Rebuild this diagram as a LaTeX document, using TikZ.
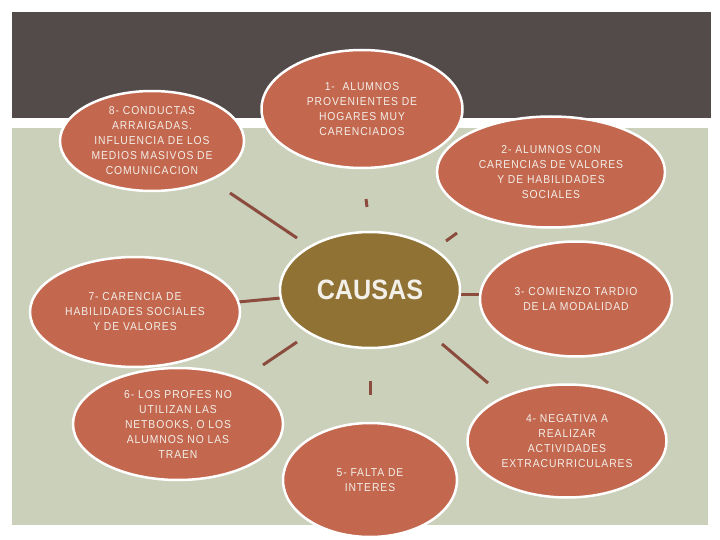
\documentclass[tikz,border=0pt]{standalone}
\usepackage{fontspec}
\setmainfont{Liberation Sans}
\newfontfamily\narrowfont{Liberation Sans}[FakeStretch=0.9,LetterSpace=8]
\newfontfamily\titlefont{Liberation Sans}[FakeStretch=0.9]
\usepackage{xcolor}
\usetikzlibrary{shapes.geometric}
\definecolor{bandgray}{HTML}{534A4A}
\definecolor{sage}{HTML}{CBD0BB}
\definecolor{terra}{HTML}{C3674E}
\definecolor{olivebrown}{HTML}{8F7234}
\definecolor{linkred}{HTML}{8B4B3D}
\definecolor{paper}{HTML}{F3EFE9}

\begin{document}
\begin{tikzpicture}[x=1pt,y=-1pt,
  causa/.style={ellipse, draw=white, line width=2.5pt, fill=terra, inner sep=0pt,
    text=paper, align=center, font=\narrowfont\fontsize{11.5}{15}\selectfont},
  link/.style={draw=linkred, line width=3pt}]
\useasboundingbox (0,0) rectangle (720,540);
\fill[white] (0,0) rectangle (720,540);
\fill[bandgray] (12,12) rectangle (711,118);
\fill[sage] (12,128) rectangle (708,525);

% ends of the short connectors
\coordinate (a8) at (230,193); \coordinate (b8) at (297,238);
\coordinate (a1) at (366,199); \coordinate (b1) at (367,207);
\coordinate (a2) at (446,241); \coordinate (b2) at (457,233);
\coordinate (a7) at (238,302); \coordinate (b7) at (281,298);
\coordinate (a3) at (460,294); \coordinate (b3) at (480,294);
\coordinate (a6) at (263,365); \coordinate (b6) at (297,342);
\coordinate (a5) at (370,381); \coordinate (b5) at (370,395);
\coordinate (a4) at (442,344); \coordinate (b4) at (488,383);
\foreach \i in {1,...,8}
  \draw[link] (a\i) -- (b\i);

% causes
\node[causa, minimum width=184, minimum height=100] (c8) at (152,141)
  {8- CONDUCTAS\\ARRAIGADAS.\\INFLUENCIA DE LOS\\MEDIOS MASIVOS DE\\COMUNICACION};
\node[causa, minimum width=201, minimum height=118] (c1) at (362,109)
  {1-\ \ ALUMNOS\\PROVENIENTES DE\\HOGARES MUY\\CARENCIADOS};
\node[causa, minimum width=228, minimum height=111] (c2) at (551,172)
  {2- ALUMNOS CON\\CARENCIAS DE VALORES\\Y DE HABILIDADES\\SOCIALES};
\node[causa, minimum width=192, minimum height=115] (c3) at (576,299)
  {3- COMIENZO TARDIO\\DE LA MODALIDAD};
\node[causa, minimum width=199, minimum height=113] (c4) at (567,441)
  {4- NEGATIVA A\\REALIZAR\\ACTIVIDADES\\EXTRACURRICULARES};
\node[causa, minimum width=174, minimum height=114] (c5) at (370,480)
  {5- FALTA DE\\INTERES};
\node[causa, minimum width=210, minimum height=112] (c6) at (178,424)
  {6- LOS PROFES NO\\UTILIZAN LAS\\NETBOOKS, O LOS\\ALUMNOS NO LAS\\TRAEN};
\node[causa, minimum width=210, minimum height=110] (c7) at (135,312)
  {7- CARENCIA DE\\HABILIDADES SOCIALES\\Y DE VALORES};

% centre
\node[causa, fill=olivebrown, minimum width=180, minimum height=116,
  font=\titlefont\bfseries\fontsize{28}{30}\selectfont, text=paper] (causas) at (370,290) {CAUSAS};
\end{tikzpicture}
\end{document}
